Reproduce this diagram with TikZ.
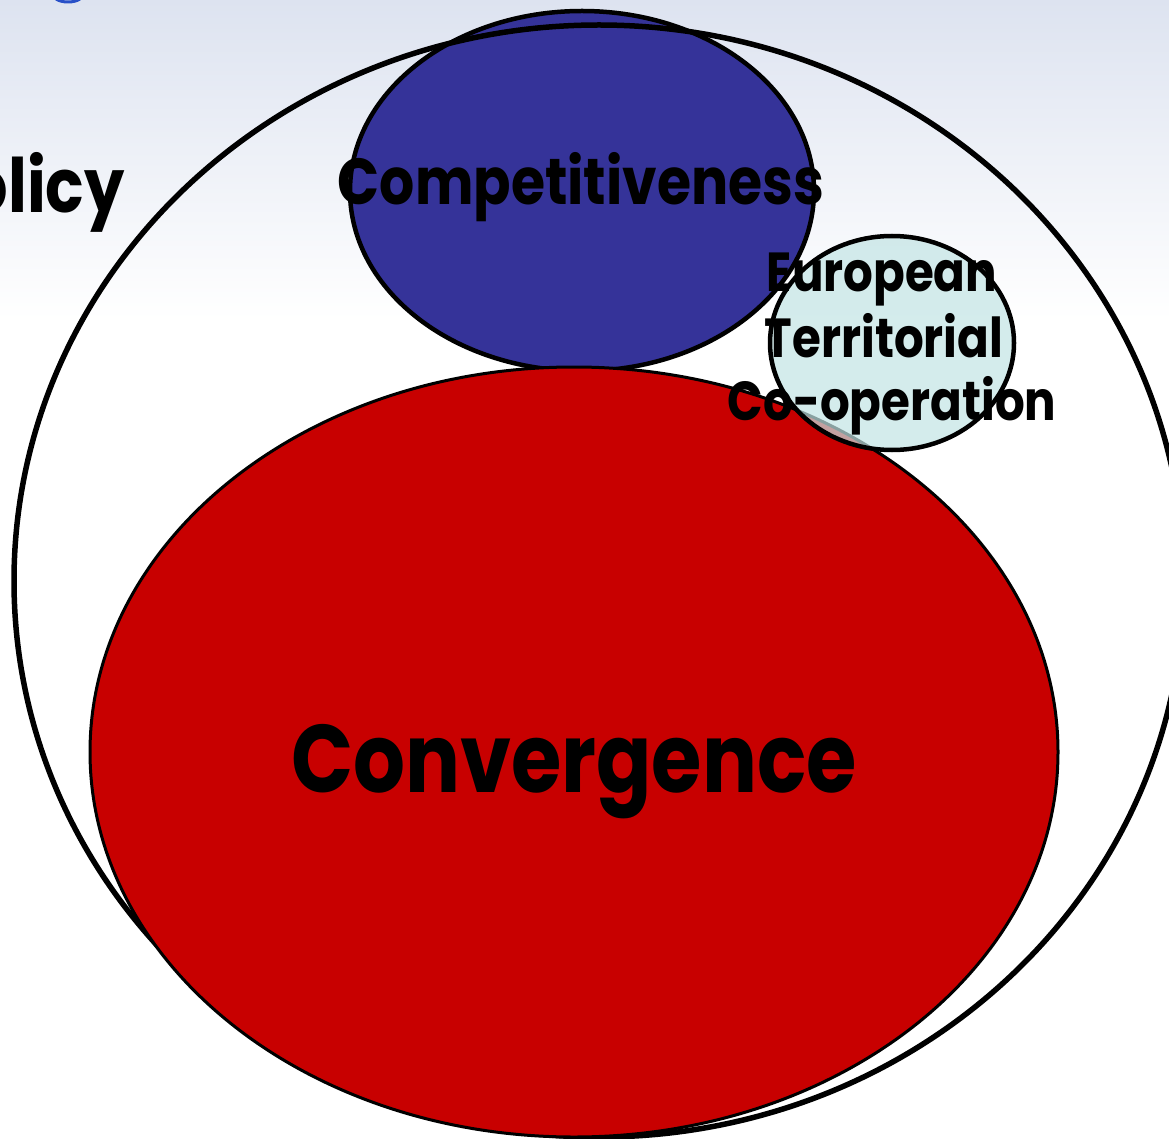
\documentclass[tikz,border=0pt]{standalone}
\usepackage{fontspec}
\newfontfamily\comic{Poppins}[FakeStretch=0.85]
\usetikzlibrary{shapes.geometric}
\definecolor{bgtop}{RGB}{221,227,240}
\definecolor{titleblue}{RGB}{40,80,200}
\definecolor{compblue}{RGB}{53,51,153}
\definecolor{convred}{RGB}{200,0,0}
\definecolor{etccyan}{RGB}{194,228,228}
\begin{document}
\begin{tikzpicture}[x=1pt,y=-1pt,
  region/.style={ellipse, inner sep=0pt, outer sep=0pt, draw=black},
  lbl/.style={anchor=base, inner sep=0pt, text=black}]
\useasboundingbox (0,0) rectangle (1169,1139);
\clip (0,0) rectangle (1169,1139);
\fill[white] (0,0) rectangle (1169,1139);
\shade[top color=bgtop, bottom color=white] (0,0) rectangle (1169,320);
% fragment of a title letter at the top edge
\draw[titleblue, line width=3pt] (56,-1) .. controls (62,3) and (74,3) .. (80,-1);
% regions
\node[region, fill=compblue, line width=4.5pt, minimum width=464pt, minimum height=360pt] (comp) at (582,191) {};
\node[region, line width=5.5pt, minimum width=1170pt, minimum height=1112pt] (policy) at (599,581) {};
\node[region, fill=convred, line width=3pt, minimum width=968pt, minimum height=770pt] (conv) at (574,752) {};
\node[region, fill=etccyan, fill opacity=0.7, line width=4.5pt, minimum width=244pt, minimum height=214pt] (etc) at (892,343) {};
% labels
\node[lbl, font=\comic\bfseries\fontsize{75}{75}\selectfont, anchor=base east] (policyt) at (125,213) {olicy};
\node[lbl, font=\comic\bfseries\fontsize{65}{65}\selectfont] (compt) at (581,205) {Competitiveness};
\node[lbl, font=\comic\bfseries\fontsize{96}{96}\selectfont] (convt) at (574,792) {Convergence};
\node[lbl, font=\comic\bfseries\fontsize{55}{55}\selectfont] (etct1) at (882,292) {European};
\node[lbl, font=\comic\bfseries\fontsize{55}{55}\selectfont] (etct2) at (884,357) {Territorial};
\node[lbl, font=\comic\bfseries\fontsize{55}{55}\selectfont] (etct3) at (892,420) {Co-operation};
\end{tikzpicture}
\end{document}
